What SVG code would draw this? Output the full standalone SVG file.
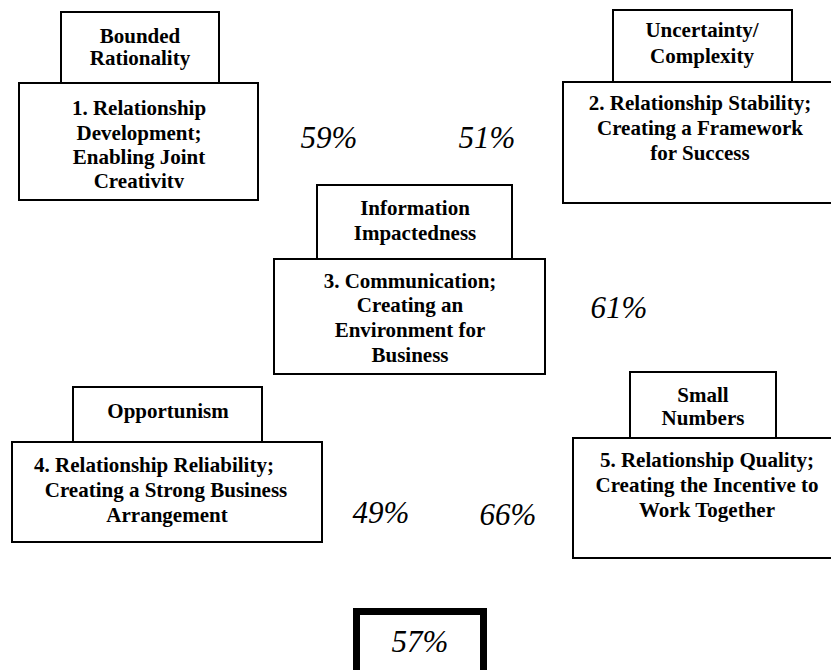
<svg xmlns="http://www.w3.org/2000/svg" width="831" height="670" viewBox="0 0 831 670">
<style>
.box{fill:#fff;stroke:#000;stroke-width:2}
.t{font-family:"Liberation Serif","Times New Roman",serif;font-weight:bold;font-size:21px;fill:#000;text-anchor:middle}
.p{font-family:"Liberation Serif","Times New Roman",serif;font-style:italic;font-size:31px;fill:#000;text-anchor:middle}
</style>
<defs>
<clipPath id="clip1"><rect x="19" y="83" width="239" height="105"/></clipPath>
</defs>
<rect width="831" height="670" fill="#fff"/>
<g id="connectors"></g>
<g id="node1">
<rect class="box" x="61" y="12" width="158" height="71"/>
<text class="t" x="140" y="43">Bounded</text>
<text class="t" x="140" y="65">Rationality</text>
<rect class="box" x="19" y="83" width="239" height="117"/>
<g clip-path="url(#clip1)">
<text class="t" x="139" y="115">1. Relationship</text>
<text class="t" x="139" y="140">Development;</text>
<text class="t" x="139" y="164">Enabling Joint</text>
<text class="t" x="139" y="188">Creativity</text>
</g>
</g>
<g id="node2">
<rect class="box" x="613" y="10" width="179" height="72"/>
<text class="t" x="702" y="37">Uncertainty/</text>
<text class="t" x="702" y="63">Complexity</text>
<rect class="box" x="563" y="82" width="275" height="121"/>
<text class="t" x="700" y="110">2. Relationship Stability;</text>
<text class="t" x="700" y="135">Creating a Framework</text>
<text class="t" x="700" y="160">for Success</text>
</g>
<g id="node3">
<rect class="box" x="317" y="185" width="195" height="74"/>
<text class="t" x="415" y="215">Information</text>
<text class="t" x="415" y="240">Impactedness</text>
<rect class="box" x="274" y="259" width="271" height="115"/>
<text class="t" x="410" y="288">3. Communication;</text>
<text class="t" x="410" y="312">Creating an</text>
<text class="t" x="410" y="337">Environment for</text>
<text class="t" x="410" y="362">Business</text>
</g>
<g id="node4">
<rect class="box" x="73" y="387" width="189" height="55"/>
<text class="t" x="168" y="418">Opportunism</text>
<rect class="box" x="12" y="442" width="310" height="100"/>
<text class="t" x="154" y="472">4. Relationship Reliability;</text>
<text class="t" x="166" y="497">Creating a Strong Business</text>
<text class="t" x="167" y="522">Arrangement</text>
</g>
<g id="node5">
<rect class="box" x="630" y="372" width="146" height="66"/>
<text class="t" x="703" y="402">Small</text>
<text class="t" x="703" y="425">Numbers</text>
<rect class="box" x="573" y="438" width="265" height="120"/>
<text class="t" x="707" y="467">5. Relationship Quality;</text>
<text class="t" x="707" y="492">Creating the Incentive to</text>
<text class="t" x="707" y="517">Work Together</text>
</g>
<g id="labels">
<text class="p" x="329" y="148">59%</text>
<text class="p" x="487" y="148">51%</text>
<text class="p" x="619" y="318">61%</text>
<text class="p" x="381" y="523">49%</text>
<text class="p" x="508" y="525">66%</text>
</g>
<g id="total">
<rect x="356.5" y="611.5" width="127" height="70" fill="#fff" stroke="#000" stroke-width="7"/>
<text class="p" x="420" y="652">57%</text>
</g>
</svg>
